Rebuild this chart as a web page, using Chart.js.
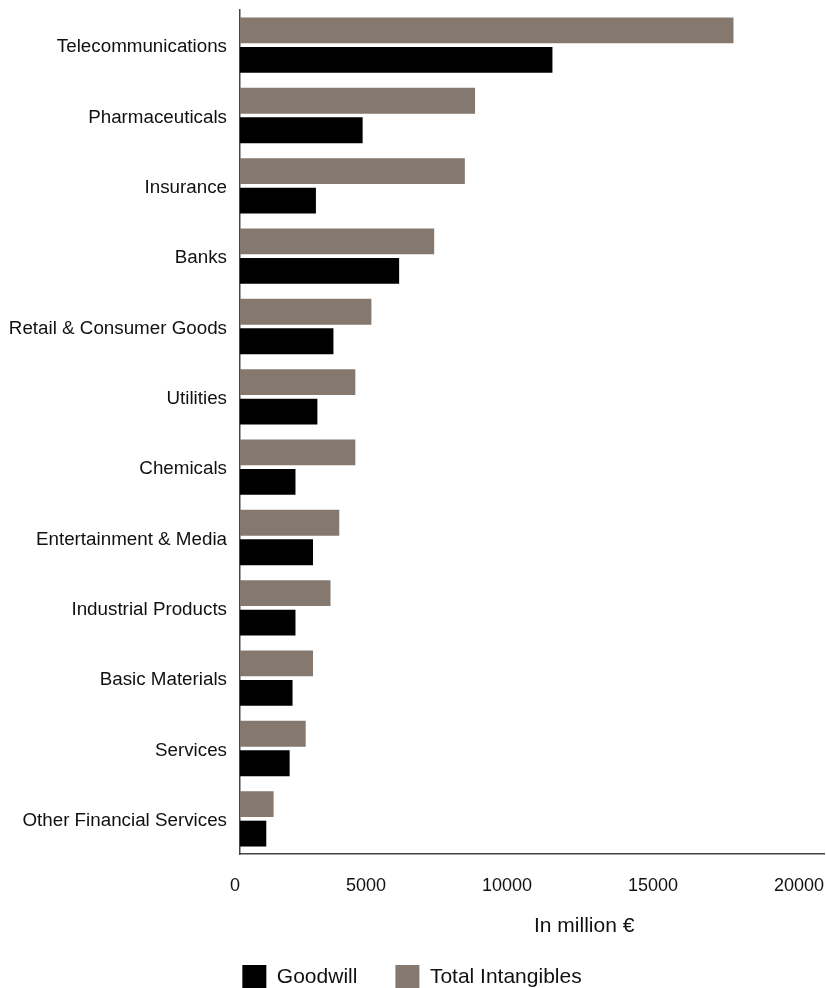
<!DOCTYPE html>
<html>
<head>
<meta charset="utf-8">
<script src="https://cdn.jsdelivr.net/npm/chart.js@4"></script>
<style>
  html, body { margin: 0; padding: 0; overflow: hidden; background: #fff; }
  canvas { display: block; }
</style>
</head>
<body>
<canvas id="intangiblesChart" width="826" height="999"></canvas>
<script>
const sectores = [
  "Telecommunications", "Pharmaceuticals", "Insurance", "Banks",
  "Retail & Consumer Goods", "Utilities", "Chemicals", "Entertainment & Media",
  "Industrial Products", "Basic Materials", "Services", "Other Financial Services"
];
const totalIntangibles = [16900, 8050, 7700, 6650, 4500, 3950, 3950, 3400, 3100, 2500, 2250, 1150];
const goodwill = [10700, 4200, 2600, 5450, 3200, 2650, 1900, 2500, 1900, 1800, 1700, 900];
const xTicks = [0, 5000, 10000, 15000, 20000];
const xTitle = "In million €";

const fuente = "'Liberation Sans', Arial, Helvetica, sans-serif";

// titulo del eje x, va corrido a la derecha del centro
const axisTitlePlugin = {
  id: "axisTitle",
  afterDraw(chart) {
    const ctx = chart.ctx;
    const area = chart.chartArea;
    ctx.save();
    ctx.font = "21px " + fuente;
    ctx.fillStyle = "#111";
    ctx.textAlign = "left";
    ctx.textBaseline = "middle";
    ctx.fillText(xTitle, area.left + 294, area.bottom + 72);
    ctx.restore();
  }
};

// sin relleno extra por las etiquetas de los extremos
function sinPadding(scale) {
  scale.paddingTop = 0;
  scale.paddingBottom = 0;
  scale.paddingLeft = 0;
  scale.paddingRight = 0;
}

new Chart(document.getElementById("intangiblesChart"), {
  type: "bar",
  data: {
    labels: sectores,
    datasets: [
      {
        label: "Total Intangibles",
        data: totalIntangibles,
        backgroundColor: "#85796f",
        borderWidth: 0
      },
      {
        label: "Goodwill",
        data: goodwill,
        backgroundColor: "#000000",
        borderWidth: 0
      }
    ]
  },
  options: {
    indexAxis: "y",
    responsive: false,
    animation: false,
    categoryPercentage: 0.84,
    barPercentage: 0.875,
    layout: { padding: { top: 10, right: 2, left: 0, bottom: 0 } },
    scales: {
      x: {
        min: 0,
        max: 20000,
        afterBuildTicks: scale => { scale.ticks = xTicks.map(v => ({ value: v })); },
        afterFit: scale => { sinPadding(scale); scale.height = 73; },
        grid: { display: false, drawTicks: false },
        border: { display: true, color: "#444", width: 1.5 },
        ticks: {
          align: "end",
          padding: 21,
          color: "#111",
          font: { family: fuente, size: 18 },
          callback: v => String(v)
        }
      },
      y: {
        afterFit: scale => { sinPadding(scale); scale.width = 240; },
        grid: { display: false, drawTicks: false },
        border: { display: true, color: "#444", width: 1.5 },
        ticks: {
          padding: 13,
          labelOffset: 2,
          color: "#111",
          font: { family: fuente, size: 18.8 }
        }
      }
    },
    plugins: {
      legend: {
        position: "bottom",
        reverse: true,
        labels: {
          boxWidth: 24,
          boxHeight: 24,
          padding: 38,
          color: "#111",
          font: { family: fuente, size: 21 }
        }
      },
      tooltip: { enabled: false }
    }
  },
  plugins: [axisTitlePlugin]
});
</script>
</body>
</html>
